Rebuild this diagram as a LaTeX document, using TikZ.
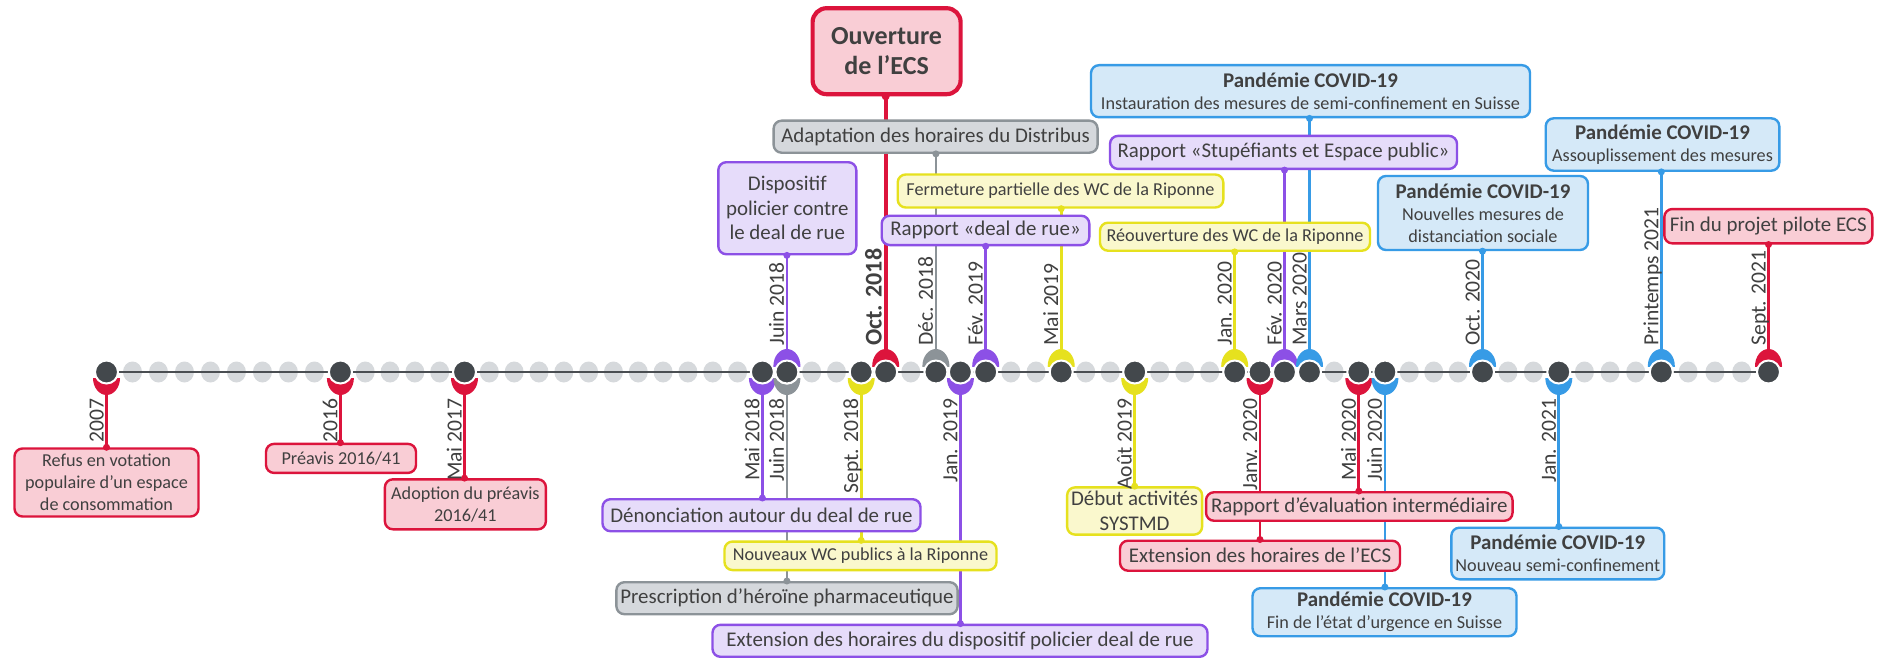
\documentclass[tikz,border=0pt]{standalone}
\usepackage{fontspec}
\setmainfont{Carlito}
\pgfdeclarelayer{bg}
\pgfdeclarelayer{mid}
\pgfsetlayers{bg,mid,main}

\definecolor{ecsred}{HTML}{DC143C}
\definecolor{ecsredfill}{HTML}{F9CDD5}
\definecolor{polpurple}{HTML}{8C50E6}
\definecolor{polpurplefill}{HTML}{E6DCFA}
\definecolor{hgrey}{HTML}{8C9398}
\definecolor{hgreyfill}{HTML}{D5D8DC}
\definecolor{wcyellow}{HTML}{E6E11E}
\definecolor{wcyellowfill}{HTML}{FAF8CD}
\definecolor{covblue}{HTML}{379BE6}
\definecolor{covbluefill}{HTML}{D5E9F8}
\definecolor{dotdark}{HTML}{43484C}
\definecolor{dotlight}{HTML}{D6D9DC}
\definecolor{axisgrey}{HTML}{4A4E52}
\definecolor{txtgrey}{HTML}{404040}

% coloured crescent under (1) or over (-1) an event dot
\newcommand{\evcap}[3]{%
  \begin{scope}[shift={(#1)}]
    \clip (-16,{6*(#3)}) rectangle (16,{28*(#3)});
    \fill[fill=#2] (0,{6*(#3)}) ellipse [x radius=13.5, y radius=17];
  \end{scope}}
\newcommand{\covid}[1]{{\bfseries\fontsize{10.45}{12}\selectfont Pandémie COVID-19}\\#1}

\begin{document}
\begin{tikzpicture}[x=0.5pt, y=-0.5pt,
    evbox/.style={draw, rounded corners=4pt, line width=1.2pt, text=txtgrey, align=center, inner sep=2pt},
    bigfont/.style={font=\fontsize{10.45}{12.3}\selectfont},
    smallfont/.style={font=\fontsize{9.1}{11}\selectfont},
    redbox/.style={evbox, draw=ecsred, fill=ecsredfill},
    purplebox/.style={evbox, draw=polpurple, fill=polpurplefill},
    greybox/.style={evbox, draw=hgrey, fill=hgreyfill},
    yellowbox/.style={evbox, draw=wcyellow, fill=wcyellowfill},
    bluebox/.style={evbox, draw=covblue, fill=covbluefill},
    link/.style={line width=1.4pt},
    evdot/.style={fill=dotdark, draw=white, line width=1pt},
    bgdot/.style={fill=dotlight},
    datelbl/.style={rotate=90, inner sep=0pt, text=txtgrey, font=\fontsize{10.8}{12}\selectfont}]
\useasboundingbox (0,0) rectangle (1884,658);

\foreach \nm/\x in {e2007/106.5, e2016/340.4, e1705/464.5, e1805/762.4, e1806/786.9,
    e1809/861.2, e1810/885.7, e1812/935.9, e1901/960.4, e1902/985.7, e1905/1061.2,
    e1908/1134.7, e2001/1234.7, e2001b/1260, e2002/1284.5, e2003/1309.5, e2005/1358.8,
    e2006/1384.9, e2010/1482.5, e2101/1558.8, e2104/1661.3, e2109/1768.5}
  \coordinate (\nm) at (\x,372);

% boxes below the axis
\node[redbox, smallfont, minimum width=92pt, minimum height=34pt] (refus) at (106.5,482.5) {Refus en votation\\populaire d’un espace\\de consommation};
\node[redbox, smallfont, minimum width=75pt, minimum height=14.5pt] (preavis) at (341,458.4) {Préavis 2016/41};
\node[redbox, smallfont, minimum width=80.5pt, minimum height=25pt] (adoption) at (465.4,504.3) {Adoption du préavis\\2016/41};
\node[purplebox, bigfont, minimum width=159pt, minimum height=16pt] (denonc) at (761.5,515.2) {Dénonciation autour du deal de rue};
\node[yellowbox, smallfont, minimum width=136pt, minimum height=14.25pt] (nouveaux) at (860.5,555.8) {Nouveaux WC publics à la Riponne};
\node[greybox, bigfont, minimum width=170.5pt, minimum height=16pt] (prescr) at (787,598.2) {Prescription d’héroïne pharmaceutique};
\node[purplebox, bigfont, minimum width=247.5pt, minimum height=16pt] (extdisp) at (960,640.8) {Extension des horaires du dispositif policier deal de rue};
\node[yellowbox, bigfont, minimum width=67pt, minimum height=23.5pt] (debut) at (1134.6,511) {Début activités\\SYSTMD};
\node[redbox, bigfont, minimum width=153.25pt, minimum height=14.25pt] (rapeval) at (1359.3,506.5) {Rapport d’évaluation intermédiaire};
\node[redbox, bigfont, minimum width=140pt, minimum height=15pt] (extecs) at (1260,555.7) {Extension des horaires de l’ECS};
\node[bluebox, smallfont, minimum width=132pt, minimum height=24pt] (finurg) at (1384.5,612.2) {\covid{Fin de l’état d’urgence en Suisse}};
\node[bluebox, smallfont, minimum width=106.25pt, minimum height=25.8pt] (nouvsemi) at (1557.8,553.5) {\covid{Nouveau semi-confinement}};

% boxes above the axis
\node[redbox, line width=2.1pt, rounded corners=7pt, font=\bfseries\fontsize{13}{15}\selectfont, minimum width=74pt, minimum height=43pt] (ouverture) at (886.6,51.2) {Ouverture\\de l’ECS};
\node[greybox, bigfont, minimum width=162pt, minimum height=16pt] (adapt) at (935.6,136.7) {Adaptation des horaires du Distribus};
\node[purplebox, bigfont, minimum width=69pt, minimum height=46pt] (dispo) at (787.3,208.2) {Dispositif\\policier contre\\le deal de rue};
\node[yellowbox, smallfont, minimum width=162.8pt, minimum height=16.5pt] (fermeture) at (1060.5,191) {Fermeture partielle des WC de la Riponne};
\node[purplebox, bigfont, minimum width=103.8pt, minimum height=14.65pt] (rapdeal) at (985.5,230.4) {Rapport «deal de rue»};
\node[yellowbox, smallfont, minimum width=135pt, minimum height=14pt] (reouv) at (1235,236.7) {Réouverture des WC de la Riponne};
\node[purplebox, bigfont, minimum width=173.5pt, minimum height=16.5pt] (stupef) at (1283.5,152.4) {Rapport «Stupéfiants et Espace public»};
\node[bluebox, smallfont, minimum width=219.5pt, minimum height=26pt] (instaur) at (1310.5,91.2) {\covid{Instauration des mesures de semi-confinement en Suisse}};
\node[bluebox, smallfont, minimum width=105pt, minimum height=37pt] (nouvmes) at (1483,213) {\covid{Nouvelles mesures de\\distanciation sociale}};
\node[bluebox, smallfont, minimum width=116.8pt, minimum height=26.2pt] (assoupl) at (1662.5,144.5) {\covid{Assouplissement des mesures}};
\node[redbox, bigfont, minimum width=104pt, minimum height=17.15pt] (finpilote) at (1768.3,226.2) {Fin du projet pilote ECS};

\begin{pgfonlayer}{bg}
  \fill[white] (0,0) rectangle (1884,658);
  \foreach \a/\b/\n in {106.5/340.4/8, 340.4/464.5/4, 464.5/762.4/11, 786.9/861.2/2,
      885.7/935.9/1, 985.7/1061.2/2, 1061.2/1134.7/2, 1134.7/1234.7/3, 1309.5/1358.8/1,
      1384.9/1482.5/3, 1482.5/1558.8/2, 1558.8/1661.3/3, 1661.3/1768.5/3}
    \foreach \k in {1,...,\n}
      \fill[bgdot] ({\a+(\b-\a)*\k/(\n+1)},372) ellipse [x radius=9.5, y radius=10.5];
  \draw[line width=1.3pt, axisgrey] (e2007) -- (e2109);
\end{pgfonlayer}

% events below the axis
\foreach \ev/\bx/\col/\dt in {e2007/refus/ecsred/2007, e2016/preavis/ecsred/2016,
    e1705/adoption/ecsred/Mai 2017, e1805/denonc/polpurple/Mai 2018,
    e1806/prescr/hgrey/Juin 2018, e1809/nouveaux/wcyellow/Sept. 2018,
    e1901/extdisp/polpurple/Jan. 2019, e1908/debut/wcyellow/Août 2019,
    e2001b/extecs/ecsred/Janv. 2020, e2005/rapeval/ecsred/Mai 2020,
    e2006/finurg/covblue/Juin 2020, e2101/nouvsemi/covblue/Jan. 2021}{
  \begin{pgfonlayer}{bg}
    \draw[link, color=\col] (\ev) -- (\ev |- \bx.north);
  \end{pgfonlayer}
  \begin{pgfonlayer}{mid}
    \evcap{\ev}{\col}{1}
    \filldraw[evdot] (\ev) circle [radius=11.5];
  \end{pgfonlayer}
  \fill[fill=\col] (\ev |- \bx.north) circle [radius=3.5];
  \node[datelbl, anchor=base east] at ([shift={(-3,26)}]\ev) {\dt};
}

% events above the axis
\foreach \ev/\bx/\col/\dt in {e1806/dispo/polpurple/Juin 2018, e1812/adapt/hgrey/Déc. 2018,
    e1902/rapdeal/polpurple/Fév. 2019, e1905/fermeture/wcyellow/Mai 2019,
    e2001/reouv/wcyellow/Jan. 2020, e2002/stupef/polpurple/Fév. 2020,
    e2003/instaur/covblue/Mars 2020, e2010/nouvmes/covblue/Oct. 2020,
    e2104/assoupl/covblue/Printemps 2021, e2109/finpilote/ecsred/Sept. 2021}{
  \begin{pgfonlayer}{bg}
    \draw[link, color=\col] (\ev) -- (\ev |- \bx.south);
  \end{pgfonlayer}
  \begin{pgfonlayer}{mid}
    \evcap{\ev}{\col}{-1}
    \filldraw[evdot] (\ev) circle [radius=11.5];
  \end{pgfonlayer}
  \fill[fill=\col] (\ev |- \bx.south) circle [radius=3.5];
  \node[datelbl, anchor=base west] at ([shift={(-3,-26)}]\ev) {\dt};
}

% opening of the ECS
\begin{pgfonlayer}{bg}
  \draw[line width=2.2pt, ecsred] (e1810) -- (e1810 |- ouverture.south);
\end{pgfonlayer}
\begin{pgfonlayer}{mid}
  \evcap{e1810}{ecsred}{-1}
  \filldraw[evdot] (e1810) circle [radius=11.5];
\end{pgfonlayer}
\fill[ecsred] (e1810 |- ouverture.south) circle [radius=4];
\node[datelbl, anchor=base west, font=\bfseries\fontsize{12}{14}\selectfont] at ([shift={(-4,-26)}]e1810) {Oct. 2018};
\end{tikzpicture}
\end{document}
